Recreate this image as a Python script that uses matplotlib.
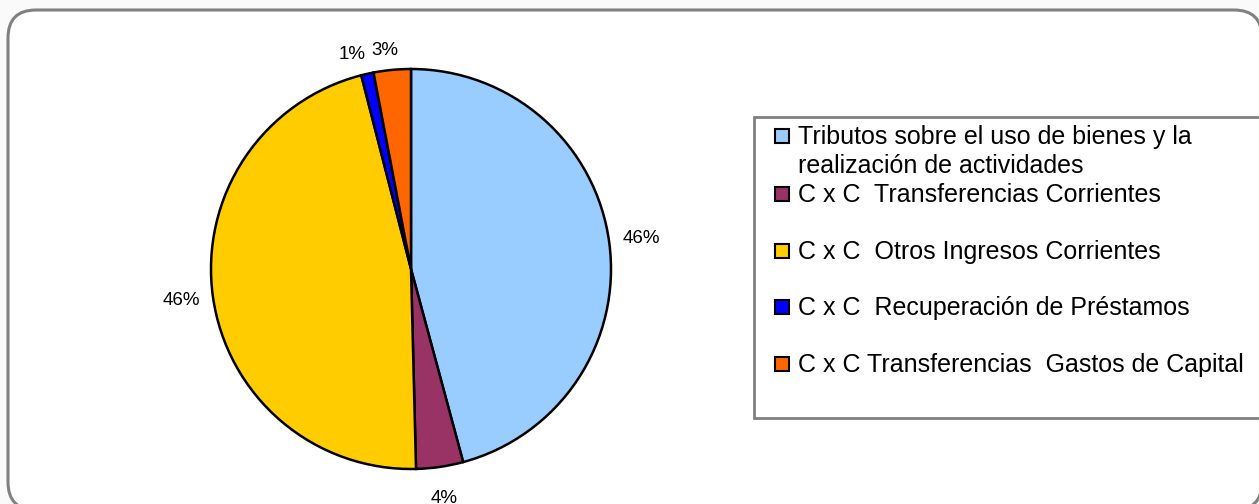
import matplotlib.pyplot as plt
import numpy as np
from matplotlib.patches import FancyBboxPatch, Rectangle

categories = ['Tributos sobre el uso de bienes y la\nrealización de actividades',
              'C x C  Transferencias Corrientes',
              'C x C  Otros Ingresos Corrientes',
              'C x C  Recuperación de Préstamos',
              'C x C Transferencias  Gastos de Capital']
shares = [45.8, 3.8, 46.4, 1.0, 3.0]
colors = ['#99CCFF', '#993366', '#FFCC00', '#0000FF', '#FF6600']

plt.rcParams['font.family'] = ['Liberation Sans', 'DejaVu Sans']

W, H = 1259, 504
fig = plt.figure(figsize=(W / 100, H / 100), dpi=100, facecolor='#fafafa')

# background axes in pixel units (y down)
bg = fig.add_axes([0, 0, 1, 1])
bg.set_xlim(0, W)
bg.set_ylim(H, 0)
bg.axis('off')
bg.add_patch(FancyBboxPatch((8, 10), 1262 - 8, 500,
                            boxstyle='round,pad=0,rounding_size=28',
                            fc='white', ec='#808080', lw=2.2))
bg.add_patch(Rectangle((754, 117), 520, 301, fc='white', ec='#808080', lw=2))

# pie
cx, cy, r = 411, 269, 200
ax = fig.add_axes([(cx - r) / W, (H - cy - r) / H, 2 * r / W, 2 * r / H])
wedges, texts, autotexts = ax.pie(shares, colors=colors, startangle=90,
                                  counterclock=False, autopct='%1.0f%%',
                                  pctdistance=1.16,
                                  wedgeprops=dict(edgecolor='black', linewidth=1.8),
                                  textprops=dict(fontsize=13.5))
ax.set_xlim(-1, 1)
ax.set_ylim(-1, 1)

# small slices: labels pulled in a bit, like the original
for i, rr, da in [(3, 1.11, 2.8), (4, 1.10, 1.4)]:
    w = wedges[i]
    mid = np.deg2rad((w.theta1 + w.theta2) / 2 + da)
    autotexts[i].set_position((rr * np.cos(mid), rr * np.sin(mid)))

# legend drawn by hand
row_y = [136, 194, 251, 307, 364]
for lab, col, y in zip(categories, colors, row_y):
    bg.add_patch(Rectangle((775, y - 7), 14, 14, fc=col, ec='black', lw=1.5))
    for j, line in enumerate(lab.split('\n')):
        bg.text(798, y + 8 + 29 * j, line, fontsize=18, va='baseline', ha='left')

fig.savefig('out.png', dpi=100, facecolor=fig.get_facecolor())
